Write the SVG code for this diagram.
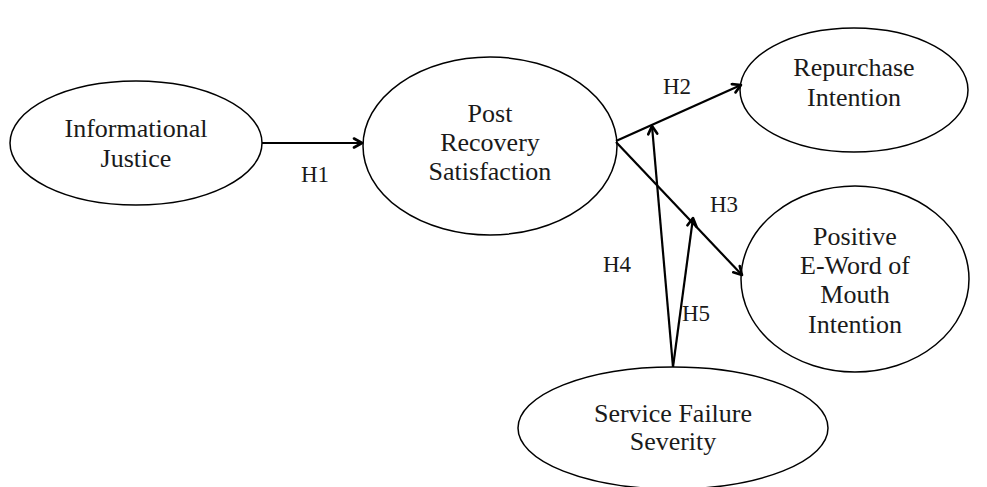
<svg xmlns="http://www.w3.org/2000/svg" width="987" height="487" viewBox="0 0 987 487">
<style>
.n{fill:#fff;stroke:#000;stroke-width:1.5}
text{font-family:"Liberation Serif","Times New Roman",serif;font-size:26px;fill:#1a1a1a;text-anchor:middle}
text.l{font-size:23px}
.c line{stroke:#000;stroke-width:2.2}
</style>
<defs>
<marker id="a" viewBox="0 0 12 12" refX="10" refY="6" markerWidth="12" markerHeight="12" markerUnits="userSpaceOnUse" orient="auto">
<path d="M2,1.5 L10,6 L2,10.5" fill="none" stroke="#000" stroke-width="2.6" stroke-linecap="round" stroke-linejoin="round"/>
</marker>
</defs>
<g id="n1"><ellipse class="n" cx="136" cy="143" rx="126" ry="62"/><text x="136" y="137">Informational</text><text x="136" y="167">Justice</text></g>
<g id="n2"><ellipse class="n" cx="490" cy="146" rx="127" ry="89"/><text x="490" y="122">Post</text><text x="490" y="151">Recovery</text><text x="490" y="180">Satisfaction</text></g>
<g id="n3"><ellipse class="n" cx="854" cy="90" rx="114" ry="62"/><text x="854" y="76">Repurchase</text><text x="854" y="106">Intention</text></g>
<g id="n4"><ellipse class="n" cx="855" cy="279" rx="114" ry="93"/><text x="855" y="245">Positive</text><text x="855" y="274">E-Word of</text><text x="855" y="303">Mouth</text><text x="855" y="333">Intention</text></g>
<g id="n5"><ellipse class="n" cx="673" cy="428" rx="155" ry="61"/><text x="673" y="422">Service Failure</text><text x="673" y="450">Severity</text></g>
<g class="c" id="connectors">
<line x1="262" y1="143" x2="362" y2="143" marker-end="url(#a)"/>
<line x1="616" y1="141" x2="741" y2="85" marker-end="url(#a)"/>
<line x1="616" y1="142" x2="742" y2="275" marker-end="url(#a)"/>
<line x1="673" y1="367" x2="652" y2="126" marker-end="url(#a)"/>
<line x1="673" y1="367" x2="693" y2="218" marker-end="url(#a)"/>
</g>
<g id="labels">
<text class="l" x="315" y="182">H1</text>
<text class="l" x="677" y="94">H2</text>
<text class="l" x="724" y="212">H3</text>
<text class="l" x="617" y="272">H4</text>
<text class="l" x="696" y="321">H5</text>
</g>
</svg>
